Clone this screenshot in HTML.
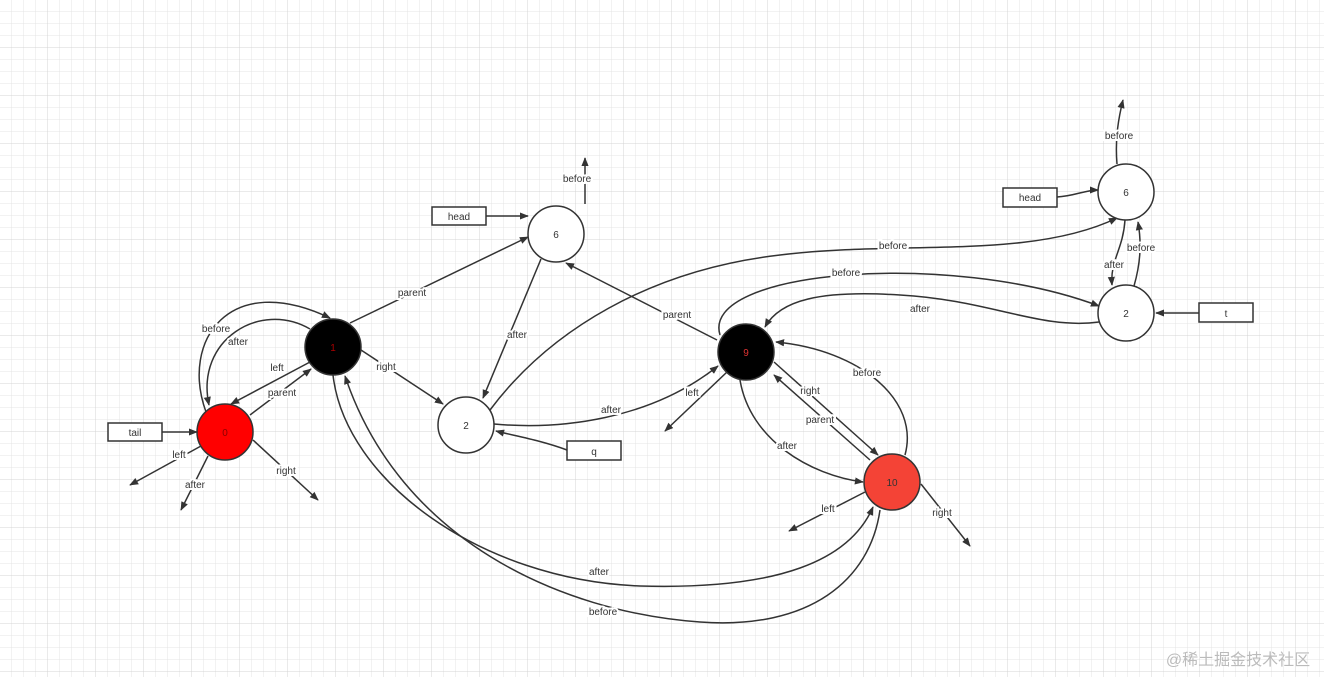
<!DOCTYPE html>
<html><head><meta charset="utf-8"><style>
body{margin:0;background:#fff}
svg{display:block}
text{font-family:"Liberation Sans","Noto Sans CJK SC",sans-serif;font-size:10px;fill:#333}
.l{fill:none;stroke:#333;stroke-width:1.5}
.lb{paint-order:stroke;stroke:#fff;stroke-width:4px}
</style></head><body>
<svg width="1324" height="677" viewBox="0 0 1324 677">
<defs>
<pattern id="g" width="12" height="12" patternUnits="userSpaceOnUse"><path d="M12 0V12H0" fill="none" stroke="#e4e4e4" stroke-width="1"/></pattern>
<pattern id="G" width="48" height="48" patternUnits="userSpaceOnUse"><rect width="48" height="48" fill="url(#g)"/><path d="M48 0V48H0" fill="none" stroke="#d4d4d4" stroke-width="1"/></pattern>
<marker id="a" viewBox="0 0 10 10" refX="9" refY="5" markerWidth="9" markerHeight="9" orient="auto" markerUnits="userSpaceOnUse"><path d="M0 1L10 5L0 9z" fill="#333"/></marker>
</defs>
<rect width="1324" height="677" fill="url(#G)"/>
<g class="l" marker-end="url(#a)">
<path d="M162 432H197"/>
<path d="M201 446L130 485"/>
<path d="M208 456L181 510"/>
<path d="M253 440L318 500"/>
<path d="M250 415L311 369"/>
<path d="M310 362L231 404"/>
<path d="M206 412C180 340 230 270 330 318"/>
<path d="M310 329C260 300 195 340 209 405"/>
<path d="M350 323L528 237"/>
<path d="M361 350L443 404"/>
<path d="M333 375C345 480 480 580 640 586C780 590 850 560 873 507"/>
<path d="M880 510C870 580 810 630 700 622C560 612 400 540 345 376"/>
<path d="M486 216H528"/>
<path d="M585 204L585 158"/>
<path d="M541 259L483 398"/>
<path d="M567 450C540 440 515 436 496 431"/>
<path d="M494 424C560 430 650 420 718 366"/>
<path d="M490 410C550 330 650 270 780 255C900 240 1030 260 1117 218"/>
<path d="M717 340L566 263"/>
<path d="M727 372L665 431"/>
<path d="M774 362L878 455"/>
<path d="M870 460L774 375"/>
<path d="M740 380C750 440 810 475 863 482"/>
<path d="M905 455C920 400 860 350 776 342"/>
<path d="M720 335C700 270 950 250 1099 306"/>
<path d="M1099 322C1040 330 990 300 900 295C820 290 780 300 765 327"/>
<path d="M865 492L789 531"/>
<path d="M921 484L970 546"/>
<path d="M1057 197C1075 196 1085 190 1098 190"/>
<path d="M1117 164C1115 140 1118 120 1123 100"/>
<path d="M1125 220C1123 250 1110 260 1112 285"/>
<path d="M1134 286C1140 265 1142 245 1138 222"/>
<path d="M1199 313H1156"/>
</g>
<g stroke="#333" stroke-width="1.5">
<circle cx="225" cy="432" r="28" fill="#ff0000"/>
<circle cx="333" cy="347" r="28" fill="#000"/>
<circle cx="556" cy="234" r="28" fill="#fff"/>
<circle cx="466" cy="425" r="28" fill="#fff"/>
<circle cx="746" cy="352" r="28" fill="#000"/>
<circle cx="892" cy="482" r="28" fill="#f44336"/>
<circle cx="1126" cy="192" r="28" fill="#fff"/>
<circle cx="1126" cy="313" r="28" fill="#fff"/>
<rect x="108" y="423" width="54" height="18" fill="#fff"/>
<rect x="432" y="207" width="54" height="18" fill="#fff"/>
<rect x="567" y="441" width="54" height="19" fill="#fff"/>
<rect x="1003" y="188" width="54" height="19" fill="#fff"/>
<rect x="1199" y="303" width="54" height="19" fill="#fff"/>
</g>
<g text-anchor="middle">
<text x="225" y="436" style="fill:#800">0</text>
<text x="333" y="351" style="fill:#a00">1</text>
<text x="556" y="238">6</text>
<text x="466" y="429">2</text>
<text x="746" y="356" style="fill:#d33">9</text>
<text x="892" y="486">10</text>
<text x="1126" y="196">6</text>
<text x="1126" y="317">2</text>
<text x="135" y="436">tail</text>
<text x="459" y="220">head</text>
<text x="594" y="455">q</text>
<text x="1030" y="201">head</text>
<text x="1226" y="317">t</text>
<g class="lb">
<text x="216" y="332">before</text>
<text x="238" y="345">after</text>
<text x="277" y="371">left</text>
<text x="282" y="396">parent</text>
<text x="179" y="458">left</text>
<text x="195" y="488">after</text>
<text x="286" y="474">right</text>
<text x="412" y="296">parent</text>
<text x="386" y="370">right</text>
<text x="577" y="182">before</text>
<text x="517" y="338">after</text>
<text x="611" y="413">after</text>
<text x="893" y="249">before</text>
<text x="677" y="318">parent</text>
<text x="692" y="396">left</text>
<text x="810" y="394">right</text>
<text x="820" y="423">parent</text>
<text x="787" y="449">after</text>
<text x="867" y="376">before</text>
<text x="846" y="276">before</text>
<text x="920" y="312">after</text>
<text x="828" y="512">left</text>
<text x="942" y="516">right</text>
<text x="599" y="575">after</text>
<text x="603" y="615">before</text>
<text x="1119" y="139">before</text>
<text x="1114" y="268">after</text>
<text x="1141" y="251">before</text>
</g>
<text x="1238" y="665" style="font-size:16px;fill:#bbb">@稀土掘金技术社区</text>
</g>
</svg>
</body></html>
